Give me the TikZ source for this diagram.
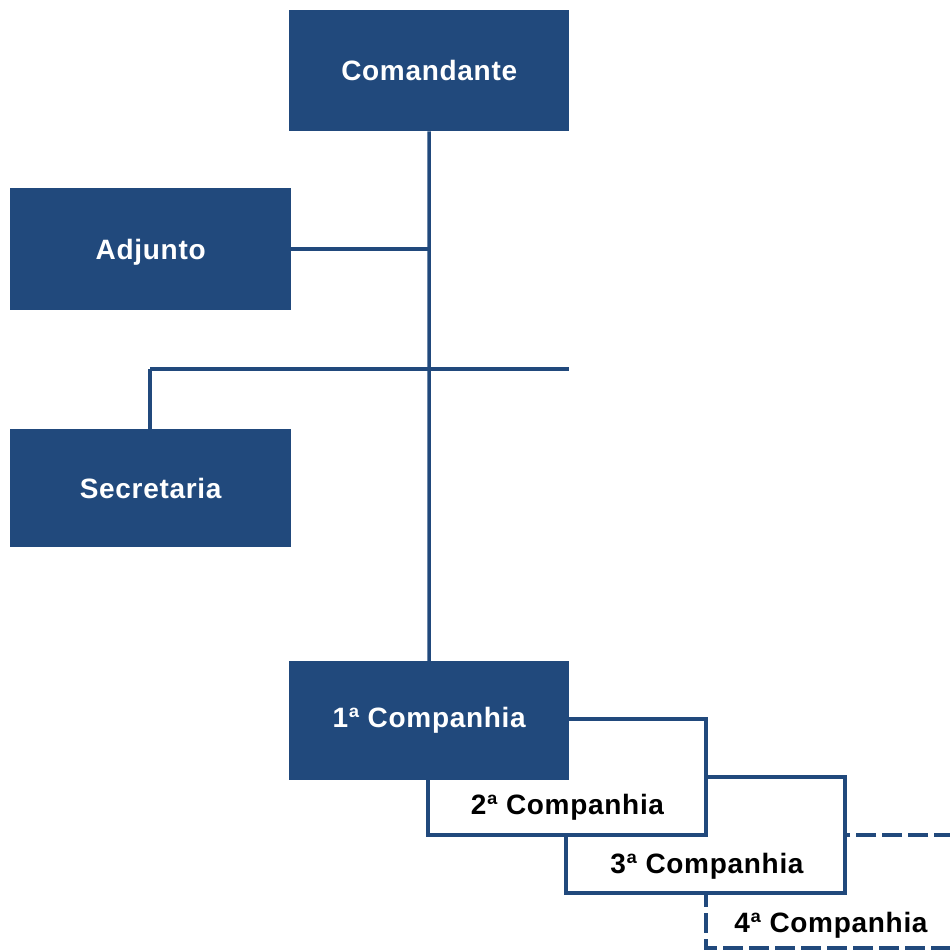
\documentclass[tikz,border=0pt]{standalone}
\usepackage{fontspec}
\setmainfont{Liberation Sans}[LetterSpace=2.5]
\definecolor{navy}{RGB}{33,73,124}
\begin{document}
\begin{tikzpicture}[x=1pt,y=-1pt,
  filledbox/.style={draw=none,fill=navy,minimum width=280pt,inner sep=0pt,
     text=white,font=\fontsize{28}{32}\selectfont\bfseries,anchor=north west},
  openbox/.style={draw=navy,line width=3.5pt,fill=white},
  dashbox/.style={draw=navy,line width=3.5pt,fill=white,dash pattern=on 20pt off 6pt},
  lbl/.style={inner sep=0pt,font=\fontsize{28}{32}\selectfont\bfseries,text=black},
  conn/.style={draw=navy,line width=3.5pt}]
\useasboundingbox (0,0) rectangle (950,951);
\clip (0,0) rectangle (950,951);
% nodes
\node[filledbox,minimum height=121pt] (cmd) at (289,10) {Comandante};
\node[filledbox,minimum width=281pt,minimum height=122pt,text depth=-4pt] (adj) at (10,188) {Adjunto};
\node[filledbox,minimum width=281pt,minimum height=118pt] (sec) at (10,429) {Secretaria};
\coordinate (hl) at (150,369);
\coordinate (hr) at (569,369);
% connectors
\draw[conn] (hl) -- (hr);
\draw[conn] (hl) -- (sec.north -| hl);
\draw[conn] (cmd.south) -- (429,661);
\draw[conn] (adj.east) -- (adj.east -| cmd.south);
% company boxes (stacked)
\draw[dashbox] (706,835) rectangle (990,948);
\draw[openbox] (566,777) rectangle (845,893);
\draw[openbox] (428,719) rectangle (706,835);
\node[filledbox,minimum height=119pt] (c1) at (289,661) {1ª Companhia};
\node[lbl] (c2) at (567.5,807) {2ª Companhia};
\node[lbl] (c3) at (707,866) {3ª Companhia};
\node[lbl] (c4) at (831,925) {4ª Companhia};
\end{tikzpicture}
\end{document}
